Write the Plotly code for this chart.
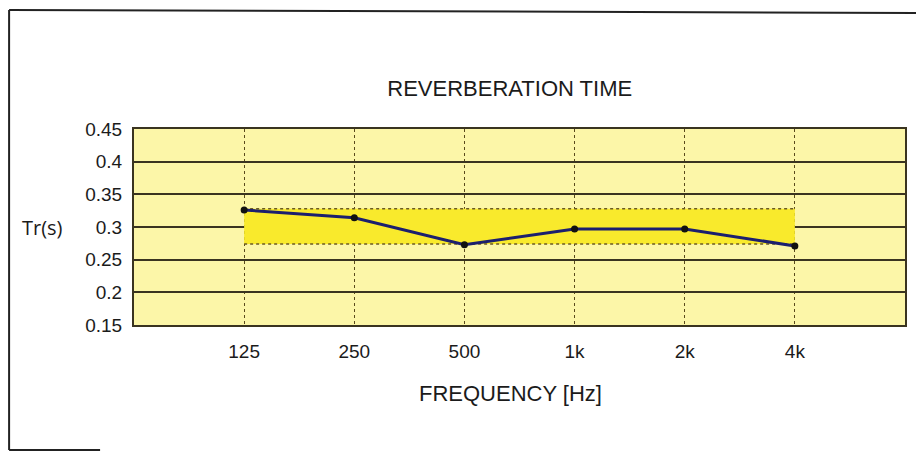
import plotly.graph_objects as go

# Data
freq_labels = ["125", "250", "500", "1k", "2k", "4k"]
tr_values = [0.326, 0.314, 0.273, 0.297, 0.297, 0.271]
band_upper = [0.328, 0.328, 0.328, 0.328, 0.328, 0.328]
band_lower = [0.274, 0.274, 0.274, 0.274, 0.274, 0.274]
y_ticks = [0.15, 0.2, 0.25, 0.3, 0.35, 0.4, 0.45]

FONT = "Liberation Sans, Arial, sans-serif"
INK = "#1b1b1b"
GRID = "#3a3420"
BAND_EDGE = "#6b5a22"

fig = go.Figure()

# tolerance band (dotted edges, bright yellow fill)
fig.add_trace(go.Scatter(
    x=freq_labels, y=band_lower, mode="lines",
    line=dict(color=BAND_EDGE, width=1.5, dash="dot"),
    hoverinfo="skip", showlegend=False,
))
fig.add_trace(go.Scatter(
    x=freq_labels, y=band_upper, mode="lines", fill="tonexty",
    fillcolor="#f9ea2c",
    line=dict(color=BAND_EDGE, width=1.5, dash="dot"),
    hoverinfo="skip", showlegend=False,
))

# measured reverberation time
fig.add_trace(go.Scatter(
    x=freq_labels, y=tr_values, mode="lines+markers",
    line=dict(color="#1c1f6e", width=3),
    marker=dict(color="#111111", size=7),
    showlegend=False,
))

fig.update_layout(
    width=924, height=454,
    paper_bgcolor="white",
    plot_bgcolor="#fcf6a8",
    font=dict(family=FONT, color=INK, size=18),
    margin=dict(l=126, r=27, t=121, b=137),
    title=dict(text="REVERBERATION TIME", x=0.543, xanchor="center",
               y=0.824, yanchor="middle", font=dict(size=22, color=INK)),
    xaxis=dict(
        type="category", range=[-1, 6],
        showgrid=True, gridcolor="#5a4a1c", gridwidth=1, griddash="dot",
        showline=True, linecolor=GRID, linewidth=2, mirror=True,
        ticks="", ticklabelstandoff=8, tickfont=dict(size=19),
        zeroline=False,
    ),
    yaxis=dict(
        range=[0.15, 0.45], tickvals=y_ticks,
        ticktext=[f"{v:g}" for v in y_ticks],
        showgrid=True, gridcolor=GRID, gridwidth=2,
        showline=True, linecolor=GRID, linewidth=2, mirror=True,
        ticks="", ticklabelstandoff=6, tickfont=dict(size=19),
        zeroline=False,
    ),
    annotations=[
        dict(text="Tr(s)", xref="paper", yref="y", x=-0.0895, y=0.3,
             xanchor="right", yanchor="middle", showarrow=False,
             font=dict(size=20, color=INK, family="Open Sans, sans-serif")),
        dict(text="FREQUENCY [Hz]", xref="paper", yref="paper",
             x=0.488, y=-0.347, xanchor="center", yanchor="middle",
             showarrow=False, font=dict(size=22, color=INK)),
    ],
    shapes=[
        # scanned page frame: top and left edges plus a short bottom stub
        dict(type="line", xref="paper", yref="paper",
             x0=-0.162, x1=1.04, y0=1.607, y1=1.592,
             line=dict(color="#222222", width=2)),
        dict(type="line", xref="paper", yref="paper",
             x0=-0.162, x1=-0.162, y0=1.607, y1=-0.638,
             line=dict(color="#222222", width=2)),
        dict(type="line", xref="paper", yref="paper",
             x0=-0.162, x1=-0.044, y0=-0.638, y1=-0.638,
             line=dict(color="#222222", width=2)),
    ],
)

fig.write_html("out.html")
